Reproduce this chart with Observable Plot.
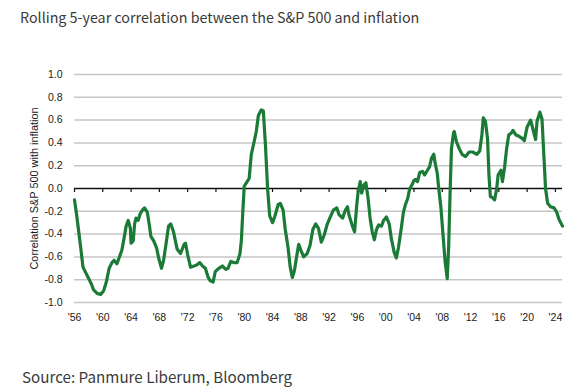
<!DOCTYPE html>
<html>
<head>
<meta charset="utf-8">
<script src="https://cdn.jsdelivr.net/npm/d3@7"></script>
<script src="https://cdn.jsdelivr.net/npm/@observablehq/plot@0.6"></script>
<style>
  html, body { margin: 0; padding: 0; background: #fff; }
  body { width: 581px; height: 392px; overflow: hidden; }
  #title { height: 40px; line-height: 34px; padding-left: 20px; font-family: "Noto Sans CJK KR", "Noto Sans", sans-serif; font-size: 14.3px; color: #3a3a3a; white-space: nowrap; }
  #chart { height: 290px; }
  #caption { margin-top: 36px; height: 20px; line-height: 20px; padding-left: 22px; font-family: "Noto Sans CJK KR", "Noto Sans", sans-serif; font-size: 15.2px; color: #3a3a3a; white-space: nowrap; }
</style>
</head>
<body>
<div id="title">Rolling 5-year correlation between the S&amp;P 500 and inflation</div>
<div id="chart"></div>
<div id="caption">Source: Panmure Liberum, Bloomberg</div>
<script>
const titleText = "Rolling 5-year correlation between the S&P 500 and inflation";
const yAxisTitle = "Correlation S&P 500 with inflation";
const sourceText = "Source: Panmure Liberum, Bloomberg";

const xTickYears = [1956,1960,1964,1968,1972,1976,1980,1984,1988,1992,1996,2000,2004,2008,2012,2016,2020,2024];
const yTicks = [-1.0,-0.8,-0.6,-0.4,-0.2,0.0,0.2,0.4,0.6,0.8,1.0];

const years = [
1956.0,1956.3,1956.6,1956.9,1957.2,1957.6,1958.0,1958.4,1958.7,1959.2,1959.7,1960.1,1960.5,1960.9,1961.3,1961.6,1962.0,1962.3,1962.7,1963.0,
1963.3,1963.6,1963.9,1964.0,1964.3,1964.5,1964.7,1965.0,1965.3,1965.6,1965.9,1966.3,1966.6,1966.8,1967.2,1967.6,1967.9,1968.3,1968.6,1969.0,
1969.3,1969.6,1970.0,1970.5,1971.0,1971.5,1971.7,1972.0,1972.4,1972.9,1973.3,1973.7,1974.1,1974.5,1974.9,1975.2,1975.6,1975.9,1976.4,1976.9,
1977.4,1977.7,1978.1,1978.5,1979.0,1979.4,1979.6,1979.8,1980.0,1980.3,1980.7,1981.0,1981.4,1981.7,1982.0,1982.4,1982.7,1983.0,1983.3,1983.6,
1984.0,1984.3,1984.8,1985.1,1985.5,1985.8,1986.2,1986.5,1986.8,1987.1,1987.4,1987.7,1988.0,1988.4,1988.9,1989.3,1989.7,1990.1,1990.5,1990.9,
1991.3,1991.7,1992.1,1992.6,1993.1,1993.4,1993.9,1994.3,1994.6,1994.8,1995.3,1995.6,1995.9,1996.1,1996.4,1996.6,1996.9,1997.2,1997.5,1997.8,
1998.1,1998.4,1998.7,1999.0,1999.4,1999.7,2000.1,2000.5,2000.8,2001.2,2001.5,2001.8,2002.2,2002.5,2002.8,2003.1,2003.4,2003.7,2004.0,2004.2,
2004.5,2004.8,2005.2,2005.5,2005.9,2006.2,2006.5,2006.8,2007.0,2007.3,2007.5,2007.8,2008.1,2008.4,2008.7,2008.9,2009.1,2009.3,2009.6,2009.7,
2010.0,2010.4,2010.8,2011.3,2011.8,2012.3,2012.9,2013.3,2013.6,2013.8,2014.1,2014.4,2014.6,2014.8,2015.1,2015.4,2015.7,2015.9,2016.3,2016.5,
2016.8,2017.1,2017.4,2017.8,2018.0,2018.4,2018.8,2019.3,2019.6,2020.0,2020.5,2020.9,2021.2,2021.4,2021.8,2022.1,2022.4,2022.6,2022.9,2023.3,
2023.8,2024.2,2024.5,2025.0
];
const corr = [
-0.10,-0.23,-0.38,-0.53,-0.69,-0.74,-0.79,-0.84,-0.89,-0.92,-0.93,-0.90,-0.82,-0.70,-0.65,-0.63,-0.66,-0.61,-0.54,-0.44,
-0.33,-0.28,-0.35,-0.48,-0.46,-0.31,-0.26,-0.28,-0.22,-0.19,-0.17,-0.21,-0.33,-0.42,-0.46,-0.52,-0.61,-0.70,-0.63,-0.46,
-0.33,-0.31,-0.38,-0.53,-0.57,-0.49,-0.48,-0.58,-0.69,-0.68,-0.67,-0.65,-0.68,-0.70,-0.78,-0.81,-0.82,-0.73,-0.70,-0.68,
-0.71,-0.70,-0.64,-0.65,-0.65,-0.57,-0.45,-0.20,0.02,0.05,0.09,0.30,0.41,0.50,0.64,0.69,0.68,0.38,0.00,-0.24,
-0.30,-0.25,-0.14,-0.13,-0.19,-0.36,-0.52,-0.69,-0.78,-0.72,-0.60,-0.49,-0.54,-0.60,-0.57,-0.50,-0.36,-0.31,-0.35,-0.47,
-0.41,-0.32,-0.26,-0.19,-0.17,-0.23,-0.26,-0.19,-0.16,-0.23,-0.33,-0.38,-0.15,-0.03,0.06,-0.04,0.03,0.05,-0.08,-0.26,
-0.38,-0.45,-0.36,-0.32,-0.33,-0.28,-0.25,-0.31,-0.44,-0.56,-0.61,-0.52,-0.35,-0.21,-0.14,-0.09,0.00,0.03,0.07,0.08,
0.06,0.14,0.15,0.12,0.16,0.19,0.27,0.30,0.22,0.13,0.00,-0.16,-0.40,-0.64,-0.79,-0.52,-0.05,0.35,0.49,0.50,
0.41,0.35,0.30,0.28,0.32,0.32,0.30,0.33,0.47,0.62,0.59,0.44,0.12,-0.07,-0.08,-0.10,0.00,0.12,0.16,0.06,
0.18,0.35,0.47,0.49,0.51,0.47,0.46,0.44,0.42,0.54,0.60,0.50,0.43,0.59,0.67,0.61,0.25,0.00,-0.13,-0.16,
-0.17,-0.21,-0.27,-0.33
];

const data = years.map((y, i) => ({year: y, value: corr[i]}));
const fmtY = d => (d < 0 ? "-" : "") + Math.abs(d).toFixed(1);
const fmtX = d => "'" + String(d).slice(2);

const chart = Plot.plot({
  width: 581,
  height: 290,
  marginLeft: 74,
  marginRight: 19,
  marginTop: 34,
  marginBottom: 28,
  style: {fontFamily: "'Liberation Sans', Arial, sans-serif", fontSize: "10.5px", color: "#1a1a1a", background: "#fff"},
  x: {domain: [1956, 2025], ticks: xTickYears, tickFormat: fmtX, tickSize: 0, tickPadding: 11, label: null},
  y: {domain: [-1, 1], ticks: yTicks, tickFormat: fmtY, tickSize: 0, tickPadding: 12, label: null},
  marks: [
    Plot.ruleY(yTicks.filter(d => d !== 0), {stroke: "#c6c6c6", strokeWidth: 1.5}),
    Plot.ruleY([0], {stroke: "#111", strokeWidth: 1.5}),
    Plot.ruleX(xTickYears, {y1: 0, y2: -0.035, stroke: "#111", strokeWidth: 1.2}),
    Plot.text([yAxisTitle], {frameAnchor: "left", text: d => d, rotate: -90, dx: -40, textAnchor: "middle", lineAnchor: "middle", fontSize: 10.9, fill: "#1a1a1a"}),
    Plot.line(data, {x: "year", y: "value", stroke: "#1b7a36", strokeWidth: 3.2, strokeLinejoin: "round", strokeLinecap: "round"})
  ]
});
document.getElementById("chart").appendChild(chart);
</script>
</body>
</html>
